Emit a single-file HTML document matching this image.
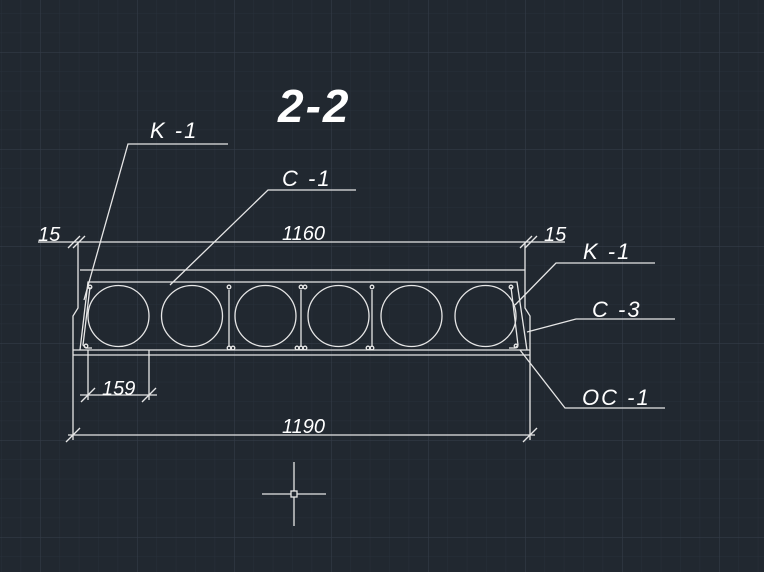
<!DOCTYPE html>
<html><head><style>
html,body{margin:0;padding:0;background:#212830;}
svg{display:block}
text{font-family:"Liberation Sans",sans-serif;font-style:italic;fill:#fff;}
.l{letter-spacing:2px}
</style></head><body>
<svg width="764" height="572" viewBox="0 0 764 572" xmlns="http://www.w3.org/2000/svg">
<defs>
<pattern id="mn" width="19.4" height="19.4" patternUnits="userSpaceOnUse" x="1.2" y="13.2">
<path d="M0 0H19.4M0 0V19.4" stroke="#28303a" stroke-width="1" fill="none"/>
</pattern>
<pattern id="mj" width="97" height="97" patternUnits="userSpaceOnUse" x="40" y="52">
<path d="M0 0H97M0 0V97" stroke="#333b47" stroke-width="1.2" fill="none"/>
</pattern>
</defs>
<rect width="764" height="572" fill="#212830"/>
<rect width="764" height="572" fill="url(#mn)"/>
<rect width="764" height="572" fill="url(#mj)"/>
<g stroke="#e6e6e6" stroke-width="1.3" fill="none">
<line x1="38" y1="242" x2="565" y2="242"/>
<line x1="68" y1="248" x2="80" y2="236"/><line x1="73" y1="248" x2="85" y2="236"/>
<line x1="520" y1="248" x2="532" y2="236"/><line x1="525" y1="248" x2="537" y2="236"/>
<polyline points="78,242 78,308 73,316 73,440"/>
<polyline points="525,242 525,308 530,316 530,440"/>
<line x1="80" y1="270" x2="525" y2="270"/>
<polyline points="80,350 88,282 517,282 527,350"/>
<line x1="73" y1="350" x2="530" y2="350"/>
<line x1="73" y1="355" x2="530" y2="355"/>
<circle cx="118.5" cy="316" r="30.5"/>
<circle cx="192" cy="316" r="30.5"/>
<circle cx="265.5" cy="316" r="30.5"/>
<circle cx="338.5" cy="316" r="30.5"/>
<circle cx="411.5" cy="316" r="30.5"/>
<circle cx="485.5" cy="316" r="30.5"/>
<polyline points="90,287 83,345 86,348 92,348"/>
<circle cx="86" cy="346" r="1.8"/><circle cx="90" cy="287" r="1.8"/>
<polyline points="511,287 518,345 515,348 509,348"/>
<circle cx="516" cy="346" r="1.8"/><circle cx="511" cy="287" r="1.8"/>
<line x1="229" y1="290" x2="229" y2="346"/><circle cx="229" cy="287" r="1.8"/><circle cx="229" cy="348" r="1.8"/><circle cx="233" cy="348" r="1.8"/>
<line x1="301" y1="290" x2="301" y2="346"/><circle cx="301" cy="287" r="1.8"/><circle cx="305" cy="287" r="1.8"/><circle cx="297" cy="348" r="1.8"/><circle cx="301" cy="348" r="1.8"/><circle cx="305" cy="348" r="1.8"/>
<line x1="372" y1="290" x2="372" y2="346"/><circle cx="372" cy="287" r="1.8"/><circle cx="368" cy="348" r="1.8"/><circle cx="372" cy="348" r="1.8"/>
<line x1="88" y1="350" x2="88" y2="400"/><line x1="149" y1="350" x2="149" y2="400"/>
<line x1="80" y1="395" x2="157" y2="395"/>
<line x1="81" y1="402" x2="95" y2="388"/><line x1="142" y1="402" x2="156" y2="388"/>
<line x1="68" y1="435" x2="535" y2="435"/>
<line x1="66" y1="442" x2="80" y2="428"/><line x1="523" y1="442" x2="537" y2="428"/>
<polyline points="228,144 128,144 84,300"/>
<polyline points="356,190 268,190 170,285"/>
<polyline points="655,263 556,263 515,305"/>
<polyline points="675,319 576,319 527,332"/>
<polyline points="665,408 565,408 520,350"/>
<line x1="262" y1="494" x2="326" y2="494"/><line x1="294" y1="462" x2="294" y2="526"/>
<rect x="291" y="491" width="6" height="6" fill="#212830"/>
</g>
<text x="278" y="122" font-size="46" font-weight="bold" letter-spacing="2">2-2</text>
<text class="l" x="150" y="138" font-size="22">K -1</text>
<text class="l" x="282" y="186" font-size="22">C -1</text>
<text x="38" y="241" font-size="20">15</text>
<text x="282" y="240" font-size="20">1160</text>
<text x="544" y="241" font-size="20">15</text>
<text class="l" x="583" y="259" font-size="22">K -1</text>
<text class="l" x="592" y="317" font-size="22">C -3</text>
<text class="l" x="582" y="405" font-size="22">OC -1</text>
<text x="102" y="395" font-size="20">159</text>
<text x="282" y="433" font-size="20">1190</text>
</svg>
</body></html>
